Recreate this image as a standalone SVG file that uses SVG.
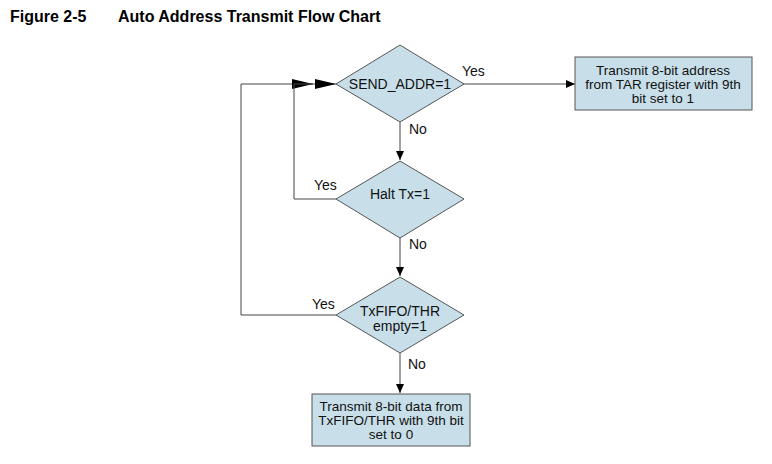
<svg xmlns="http://www.w3.org/2000/svg" width="772" height="464" viewBox="0 0 772 464">
<style>
.t{font-family:"Liberation Sans",Arial,sans-serif;font-size:14px;fill:#111}
.bt{font-family:"Liberation Sans",Arial,sans-serif;font-size:13.5px;fill:#111}
.title{font-family:"Liberation Sans",Arial,sans-serif;font-size:16px;font-weight:bold;fill:#000}
.n{fill:#c8dfe9;stroke:#555;stroke-width:1}
.c{fill:none;stroke:#444;stroke-width:1}
</style>
<defs>
<marker id="a" markerUnits="userSpaceOnUse" markerWidth="10" markerHeight="10" refX="9" refY="5" orient="auto"><path d="M0,1 L9,5 L0,9 Z" fill="#000"/></marker>
<marker id="b" markerUnits="userSpaceOnUse" markerWidth="22" markerHeight="12" refX="21" refY="6" orient="auto"><path d="M0,1 L21,6 L0,11 Z" fill="#000"/></marker>
</defs>
<text class="title" x="10" y="22">Figure 2-5</text>
<text class="title" x="118" y="22">Auto Address Transmit Flow Chart</text>
<g id="connectors">
<path class="c" d="M336,315 H241 V84 H313" marker-end="url(#b)"/>
<path class="c" d="M336,199 H294 V84 H336" marker-end="url(#b)"/>
<path class="c" d="M464,84 H575" marker-end="url(#a)"/>
<path class="c" d="M400,122 V160" marker-end="url(#a)"/>
<path class="c" d="M400,238 V276" marker-end="url(#a)"/>
<path class="c" d="M400,353 V393" marker-end="url(#a)"/>
<text class="t" x="462" y="76">Yes</text>
<text class="t" x="409" y="134">No</text>
<text class="t" x="314" y="190">Yes</text>
<text class="t" x="409" y="249">No</text>
<text class="t" x="312" y="309">Yes</text>
<text class="t" x="408" y="369">No</text>
</g>
<g id="d1">
<polygon class="n" points="400,45 464,84 400,122 336,84"/>
<text class="t" x="400" y="89" text-anchor="middle">SEND_ADDR=1</text>
</g>
<g id="d2">
<polygon class="n" points="400,161 464,199 400,238 336,199"/>
<text class="t" x="400" y="199" text-anchor="middle">Halt Tx=1</text>
</g>
<g id="d3">
<polygon class="n" points="400,277 464,315 400,353 336,315"/>
<text class="t" x="400" y="316" text-anchor="middle">TxFIFO/THR</text>
<text class="t" x="400" y="331" text-anchor="middle">empty=1</text>
</g>
<g id="b1">
<rect class="n" x="575" y="57" width="177" height="53"/>
<text class="bt" x="663" y="74.5" text-anchor="middle">Transmit 8-bit address</text>
<text class="bt" x="663" y="88.5" text-anchor="middle">from TAR register with 9th</text>
<text class="bt" x="663" y="102.5" text-anchor="middle">bit set to 1</text>
</g>
<g id="b2">
<rect class="n" x="312" y="394" width="158" height="52"/>
<text class="bt" x="391" y="411" text-anchor="middle">Transmit 8-bit data from</text>
<text class="bt" x="391" y="425" text-anchor="middle">TxFIFO/THR with 9th bit</text>
<text class="bt" x="391" y="439" text-anchor="middle">set to 0</text>
</g>
</svg>
